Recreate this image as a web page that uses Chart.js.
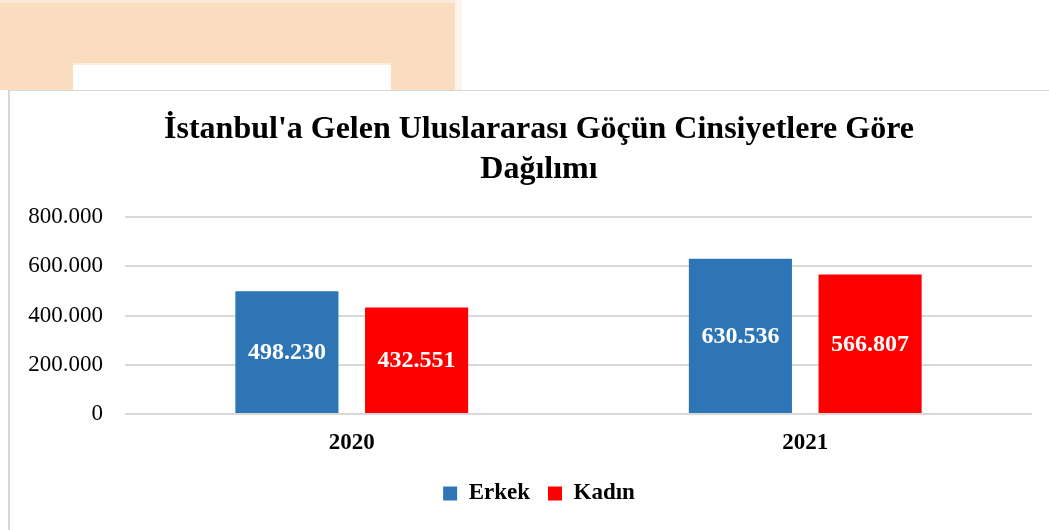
<!DOCTYPE html>
<html>
<head>
<meta charset="utf-8">
<script src="https://cdn.jsdelivr.net/npm/chart.js@4/dist/chart.umd.min.js"></script>
<style>
  html, body { margin: 0; padding: 0; background: #ffffff; }
  body { width: 1049px; height: 530px; position: relative; overflow: hidden; }
  #peachTop { position: absolute; left: 0; top: 0; width: 455px; height: 3px; background: #FBE8D6; }
  #peach { position: absolute; left: 0; top: 3px; width: 455px; height: 87px; background: #FADDBE; }
  #peachEdge { position: absolute; left: 455px; top: 0; width: 7px; height: 90px; background: #FBF4EE; }
  #inner { position: absolute; left: 73px; top: 63px; width: 318px; height: 27px; background: #ffffff; border-top: 2px solid #FBEDE2; box-sizing: border-box; }
  #frameTop { position: absolute; left: 8px; top: 90px; width: 1041px; height: 1px; background: #D9D9D9; }
  #frameLeft { position: absolute; left: 8px; top: 90px; width: 2px; height: 440px; background: #D9D5CF; }
  #wrap { position: absolute; left: 10px; top: 91px; width: 1039px; height: 439px; }
</style>
</head>
<body>
<div id="peachTop"></div>
<div id="peach"></div>
<div id="peachEdge"></div>
<div id="inner"></div>
<div id="frameTop"></div>
<div id="frameLeft"></div>
<div id="wrap"><canvas id="c" width="1039" height="439"></canvas></div>
<script>
const titleLines = ["İstanbul'a Gelen Uluslararası Göçün Cinsiyetlere Göre", "Dağılımı"];
const categories = ["2020", "2021"];
const seriesNames = ["Erkek", "Kadın"];
const erkek = [498230, 630536];
const kadin = [432551, 566807];
const yTicks = [0, 200000, 400000, 600000, 800000];

function fmt(v) {
  return String(v).replace(/\B(?=(\d{3})+(?!\d))/g, '.');
}

const serif = "'Liberation Serif', 'Times New Roman', serif";

const barLabels = {
  id: 'barLabels',
  afterDatasetsDraw(chart) {
    const ctx = chart.ctx;
    ctx.save();
    ctx.font = "bold 24px " + serif;
    ctx.fillStyle = '#ffffff';
    ctx.textAlign = 'center';
    ctx.textBaseline = 'middle';
    chart.data.datasets.forEach((ds, i) => {
      const meta = chart.getDatasetMeta(i);
      meta.data.forEach((bar, j) => {
        const y = (bar.y + bar.base) / 2;
        ctx.fillText(fmt(ds.data[j]), bar.x, y + 1);
      });
    });
    ctx.restore();
  }
};

// widen the y-axis label clip area so the tick labels are not cut off
const unclipY = {
  id: 'unclipY',
  beforeDraw(chart) { chart.scales.y.left = 0; }
};

new Chart(document.getElementById('c'), {
  type: 'bar',
  data: {
    labels: categories,
    datasets: [
      { label: seriesNames[0], data: erkek, backgroundColor: '#2E75B6', categoryPercentage: 0.572, barPercentage: 0.795 },
      { label: seriesNames[1], data: kadin, backgroundColor: '#FF0000', categoryPercentage: 0.572, barPercentage: 0.795 }
    ]
  },
  options: {
    responsive: false,
    animation: false,
    layout: { padding: { left: 36, right: 17, top: 0, bottom: 15 } },
    plugins: {
      title: {
        display: true,
        text: titleLines,
        color: '#000000',
        font: { family: serif, size: 32, weight: 'bold', lineHeight: 40 / 32 },
        padding: { top: 19, bottom: 27 }
      },
      legend: {
        position: 'bottom',
        labels: {
          color: '#000000',
          font: { family: serif, size: 23, weight: 'bold' },
          boxWidth: 14,
          boxHeight: 14,
          padding: 18
        }
      },
      tooltip: { enabled: false }
    },
    scales: {
      x: {
        grid: { display: false, drawTicks: false },
        border: { display: false },
        afterFit(scale) { scale.height = 50; },
        ticks: { color: '#000000', font: { family: serif, size: 23, weight: 'bold' }, padding: 15 }
      },
      y: {
        min: 0,
        max: 800000,
        afterBuildTicks(scale) { scale.ticks = yTicks.map(v => ({ value: v })); },
        afterFit(scale) { scale.width = 79; },
        grid: { color: '#D9D9D9', lineWidth: 2, drawTicks: false },
        border: { display: false },
        ticks: {
          color: '#000000',
          font: { family: serif, size: 23 },
          padding: 22,
          callback: v => fmt(v)
        }
      }
    }
  },
  plugins: [barLabels, unclipY]
});
</script>
</body>
</html>
